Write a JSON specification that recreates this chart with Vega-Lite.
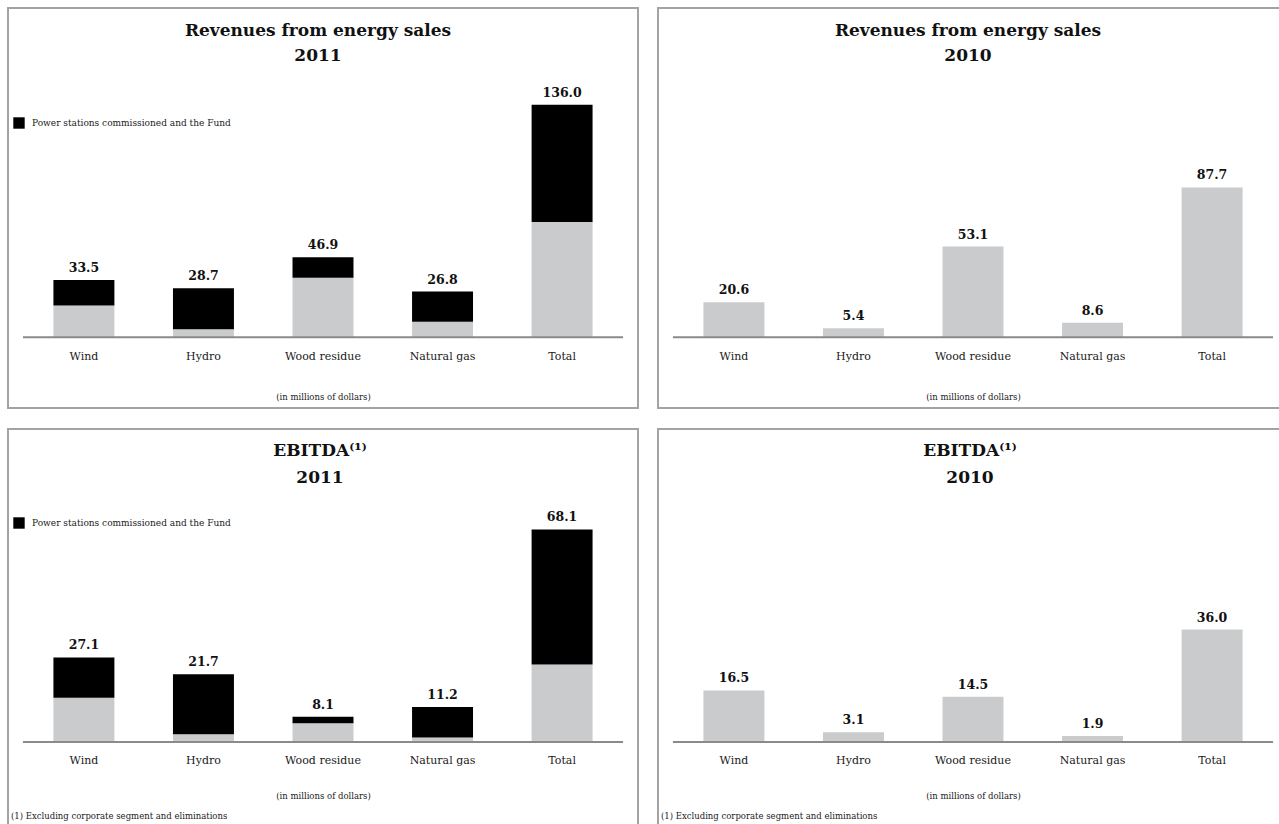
{
  "$schema": "https://vega.github.io/schema/vega-lite/v6.json",
  "background": "white",
  "padding": {"left": 7, "top": 7, "right": 0, "bottom": 0},
  "config": {
    "font": "DejaVu Serif",
    "view": {"stroke": "#a3a3a3", "strokeWidth": 2},
    "title": {"color": "#111111", "fontWeight": "bold"}
  },
  "datasets": {
    "rev2011": [
      {"cat": "Wind", "series": "Other", "value": 18.7},
      {"cat": "Hydro", "series": "Other", "value": 4.7},
      {"cat": "Wood residue", "series": "Other", "value": 34.9},
      {"cat": "Natural gas", "series": "Other", "value": 9.1},
      {"cat": "Total", "series": "Other", "value": 67.4},
      {"cat": "Wind", "series": "Power stations commissioned and the Fund", "value": 14.8},
      {"cat": "Hydro", "series": "Power stations commissioned and the Fund", "value": 24.0},
      {"cat": "Wood residue", "series": "Power stations commissioned and the Fund", "value": 12.0},
      {"cat": "Natural gas", "series": "Power stations commissioned and the Fund", "value": 17.7},
      {"cat": "Total", "series": "Power stations commissioned and the Fund", "value": 68.6}
    ],
    "rev2011tot": [
      {"cat": "Wind", "total": 33.5},
      {"cat": "Hydro", "total": 28.7},
      {"cat": "Wood residue", "total": 46.9},
      {"cat": "Natural gas", "total": 26.8},
      {"cat": "Total", "total": 136.0}
    ],
    "rev2010": [
      {"cat": "Wind", "total": 20.6},
      {"cat": "Hydro", "total": 5.4},
      {"cat": "Wood residue", "total": 53.1},
      {"cat": "Natural gas", "total": 8.6},
      {"cat": "Total", "total": 87.7}
    ],
    "eb2011": [
      {"cat": "Wind", "series": "Other", "value": 14.2},
      {"cat": "Hydro", "series": "Other", "value": 2.5},
      {"cat": "Wood residue", "series": "Other", "value": 6.0},
      {"cat": "Natural gas", "series": "Other", "value": 1.4},
      {"cat": "Total", "series": "Other", "value": 24.8},
      {"cat": "Wind", "series": "Power stations commissioned and the Fund", "value": 12.9},
      {"cat": "Hydro", "series": "Power stations commissioned and the Fund", "value": 19.2},
      {"cat": "Wood residue", "series": "Power stations commissioned and the Fund", "value": 2.1},
      {"cat": "Natural gas", "series": "Power stations commissioned and the Fund", "value": 9.8},
      {"cat": "Total", "series": "Power stations commissioned and the Fund", "value": 43.3}
    ],
    "eb2011tot": [
      {"cat": "Wind", "total": 27.1},
      {"cat": "Hydro", "total": 21.7},
      {"cat": "Wood residue", "total": 8.1},
      {"cat": "Natural gas", "total": 11.2},
      {"cat": "Total", "total": 68.1}
    ],
    "eb2010": [
      {"cat": "Wind", "total": 16.5},
      {"cat": "Hydro", "total": 3.1},
      {"cat": "Wood residue", "total": 14.5},
      {"cat": "Natural gas", "total": 1.9},
      {"cat": "Total", "total": 36.0}
    ]
  },
  "columns": 2,
  "spacing": {"row": 19, "column": 18},
  "resolve": {"scale": {"color": "independent", "x": "independent", "y": "independent"}, "legend": {"color": "independent"}},
  "concat": [
    {
      "width": 630, "height": 400,
      "title": {"text": ["Revenues from energy sales", "2011"], "fontSize": 17, "lineHeight": 25, "offset": -57, "anchor": "middle", "dx": -5},
      "encoding": {
        "x": {"field": "cat", "type": "nominal",
          "scale": {"domain": ["Wind", "Hydro", "Wood residue", "Natural gas", "Total"], "paddingInner": 0.49, "paddingOuter": 0.38},
          "axis": {"orient": "bottom", "offset": -70.7, "domain": false, "ticks": false, "tickSize": 0, "labelAngle": 0, "labelPadding": 13, "labelFontSize": 11, "labelColor": "#1a1a1a", "title": "(in millions of dollars)", "titleFontSize": 8.5, "titleFontWeight": "normal", "titleColor": "#1a1a1a", "titlePadding": 31, "grid": false}}
      },
      "layer": [
        {
          "data": {"name": "rev2011"},
          "mark": {"type": "bar"},
          "encoding": {
            "y": {"field": "value", "type": "quantitative", "stack": "zero", "scale": {"domain": [-41.3, 192.6], "nice": false, "zero": false}, "axis": null},
            "order": {"field": "series", "sort": "ascending"},
            "color": {"field": "series", "type": "nominal",
              "scale": {"domain": ["Other", "Power stations commissioned and the Fund"], "range": ["#cacbcd", "#000000"]},
              "legend": {"orient": "none", "legendX": 5, "legendY": 109, "values": ["Power stations commissioned and the Fund"], "title": null, "symbolType": "square", "symbolSize": 130, "symbolStrokeWidth": 0, "labelFontSize": 9, "labelLimit": 0, "labelOffset": 7, "labelColor": "#1a1a1a", "padding": 0}}
          }
        },
        {
          "data": {"name": "rev2011tot"},
          "mark": {"type": "text", "dy": -8, "baseline": "alphabetic", "fontWeight": "bold", "fontSize": 12.5, "color": "#111111"},
          "encoding": {
            "y": {"field": "total", "type": "quantitative"},
            "text": {"field": "total", "type": "quantitative", "format": ".1f"}
          }
        },
        {
          "data": {"values": [{}]},
          "mark": {"type": "rule", "color": "#8a8a8a", "strokeWidth": 2},
          "encoding": {
            "x": {"datum": "Wind", "bandPosition": -0.5},
            "x2": {"datum": "Total", "bandPosition": 1.5},
            "y": {"datum": 0}
          }
        }
      ]
    },
    {
      "width": 630, "height": 400,
      "title": {"text": ["Revenues from energy sales", "2010"], "fontSize": 17, "lineHeight": 25, "offset": -57, "anchor": "middle", "dx": -5},
      "encoding": {
        "x": {"field": "cat", "type": "nominal",
          "scale": {"domain": ["Wind", "Hydro", "Wood residue", "Natural gas", "Total"], "paddingInner": 0.49, "paddingOuter": 0.38},
          "axis": {"orient": "bottom", "offset": -70.7, "domain": false, "ticks": false, "tickSize": 0, "labelAngle": 0, "labelPadding": 13, "labelFontSize": 11, "labelColor": "#1a1a1a", "title": "(in millions of dollars)", "titleFontSize": 8.5, "titleFontWeight": "normal", "titleColor": "#1a1a1a", "titlePadding": 31, "grid": false}}
      },
      "layer": [
        {
          "data": {"name": "rev2010"},
          "mark": {"type": "bar", "color": "#cacbcd"},
          "encoding": {
            "y": {"field": "total", "type": "quantitative", "scale": {"domain": [-41.3, 192.6], "nice": false, "zero": false}, "axis": null}
          }
        },
        {
          "data": {"name": "rev2010"},
          "mark": {"type": "text", "dy": -8, "baseline": "alphabetic", "fontWeight": "bold", "fontSize": 12.5, "color": "#111111"},
          "encoding": {
            "y": {"field": "total", "type": "quantitative"},
            "text": {"field": "total", "type": "quantitative", "format": ".1f"}
          }
        },
        {
          "data": {"values": [{}]},
          "mark": {"type": "rule", "color": "#8a8a8a", "strokeWidth": 2},
          "encoding": {
            "x": {"datum": "Wind", "bandPosition": -0.5},
            "x2": {"datum": "Total", "bandPosition": 1.5},
            "y": {"datum": 0}
          }
        }
      ]
    },
    {
      "title": {"text": "(1) Excluding corporate segment and eliminations", "orient": "bottom", "anchor": "start", "baseline": "top", "offset": -18, "dx": 4, "fontSize": 8.5, "fontWeight": "normal", "color": "#1a1a1a"},
      "vconcat": [
        {
          "width": 630, "height": 400,
          "title": {"text": ["EBITDA⁽¹⁾", "2011"], "fontSize": 17, "lineHeight": 27, "offset": -58, "anchor": "middle", "dx": -3},
          "encoding": {
            "x": {"field": "cat", "type": "nominal",
              "scale": {"domain": ["Wind", "Hydro", "Wood residue", "Natural gas", "Total"], "paddingInner": 0.49, "paddingOuter": 0.38},
              "axis": {"orient": "bottom", "offset": -87, "domain": false, "ticks": false, "tickSize": 0, "labelAngle": 0, "labelPadding": 12, "labelFontSize": 11, "labelColor": "#1a1a1a", "title": "(in millions of dollars)", "titleFontSize": 8.5, "titleFontWeight": "normal", "titleColor": "#1a1a1a", "titlePadding": 26, "grid": false}}
          },
          "layer": [
            {
              "data": {"name": "eb2011"},
              "mark": {"type": "bar"},
              "encoding": {
                "y": {"field": "value", "type": "quantitative", "stack": "zero", "scale": {"domain": [-27.9, 100.3], "nice": false, "zero": false}, "axis": null},
                "order": {"field": "series", "sort": "ascending"},
                "color": {"field": "series", "type": "nominal",
                  "scale": {"domain": ["Other", "Power stations commissioned and the Fund"], "range": ["#cacbcd", "#000000"]},
                  "legend": {"orient": "none", "legendX": 5, "legendY": 88, "values": ["Power stations commissioned and the Fund"], "title": null, "symbolType": "square", "symbolSize": 130, "symbolStrokeWidth": 0, "labelFontSize": 9, "labelLimit": 0, "labelOffset": 7, "labelColor": "#1a1a1a", "padding": 0}}
              }
            },
            {
              "data": {"name": "eb2011tot"},
              "mark": {"type": "text", "dy": -8, "baseline": "alphabetic", "fontWeight": "bold", "fontSize": 12.5, "color": "#111111"},
              "encoding": {
                "y": {"field": "total", "type": "quantitative"},
                "text": {"field": "total", "type": "quantitative", "format": ".1f"}
              }
            },
            {
              "data": {"values": [{}]},
              "mark": {"type": "rule", "color": "#8a8a8a", "strokeWidth": 2},
              "encoding": {
                "x": {"datum": "Wind", "bandPosition": -0.5},
                "x2": {"datum": "Total", "bandPosition": 1.5},
                "y": {"datum": 0}
              }
            }
          ]
        }
      ]
    },
    {
      "title": {"text": "(1) Excluding corporate segment and eliminations", "orient": "bottom", "anchor": "start", "baseline": "top", "offset": -18, "dx": 4, "fontSize": 8.5, "fontWeight": "normal", "color": "#1a1a1a"},
      "vconcat": [
        {
          "width": 630, "height": 400,
          "title": {"text": ["EBITDA⁽¹⁾", "2010"], "fontSize": 17, "lineHeight": 27, "offset": -58, "anchor": "middle", "dx": -3},
          "encoding": {
            "x": {"field": "cat", "type": "nominal",
              "scale": {"domain": ["Wind", "Hydro", "Wood residue", "Natural gas", "Total"], "paddingInner": 0.49, "paddingOuter": 0.38},
              "axis": {"orient": "bottom", "offset": -87, "domain": false, "ticks": false, "tickSize": 0, "labelAngle": 0, "labelPadding": 12, "labelFontSize": 11, "labelColor": "#1a1a1a", "title": "(in millions of dollars)", "titleFontSize": 8.5, "titleFontWeight": "normal", "titleColor": "#1a1a1a", "titlePadding": 26, "grid": false}}
          },
          "layer": [
            {
              "data": {"name": "eb2010"},
              "mark": {"type": "bar", "color": "#cacbcd"},
              "encoding": {
                "y": {"field": "total", "type": "quantitative", "scale": {"domain": [-27.9, 100.3], "nice": false, "zero": false}, "axis": null}
              }
            },
            {
              "data": {"name": "eb2010"},
              "mark": {"type": "text", "dy": -8, "baseline": "alphabetic", "fontWeight": "bold", "fontSize": 12.5, "color": "#111111"},
              "encoding": {
                "y": {"field": "total", "type": "quantitative"},
                "text": {"field": "total", "type": "quantitative", "format": ".1f"}
              }
            },
            {
              "data": {"values": [{}]},
              "mark": {"type": "rule", "color": "#8a8a8a", "strokeWidth": 2},
              "encoding": {
                "x": {"datum": "Wind", "bandPosition": -0.5},
                "x2": {"datum": "Total", "bandPosition": 1.5},
                "y": {"datum": 0}
              }
            }
          ]
        }
      ]
    }
  ]
}
